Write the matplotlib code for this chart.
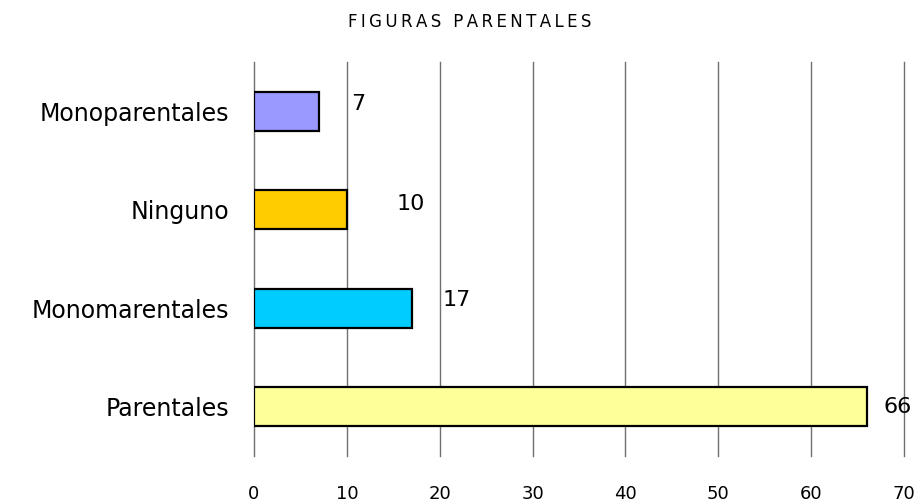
import matplotlib
matplotlib.use("Agg")
import matplotlib.pyplot as plt
import numpy as np

# data
categorias = ["Monoparentales", "Ninguno", "Monomarentales", "Parentales"]
valores = [7, 10, 17, 66]
colores = ["#9999FF", "#FFCC00", "#00CCFF", "#FFFF99"]
ticks = [0, 10, 20, 30, 40, 50, 60, 70]
titulo = "FIGURAS PARENTALES"

# label offsets (points) so the numbers sit where the original put them
offs = [(28, 5), (46, 4), (32, 6), (22, 0)]

plt.rcParams['font.family'] = ['DejaVu Sans']

fig = plt.figure(figsize=(9.2, 5.03), dpi=100)
ax = fig.add_axes([254/920, 1 - 456/503, 650/920, 394/503])

y = np.arange(len(categorias))
ax.barh(y, valores, height=0.4, color=colores, edgecolor="black", linewidth=1.6, zorder=3)

ax.set_xlim(0, 70)
ax.set_ylim(len(categorias) - 0.5, -0.5)
ax.set_xticks(ticks)
ax.set_xticklabels([str(t) for t in ticks], fontsize=13)
ax.set_yticks(y)
ax.set_yticklabels(categorias, fontsize=17)
ax.tick_params(axis='x', length=0, pad=21)
ax.tick_params(axis='y', length=0, pad=18)

ax.grid(axis='x', color="#707070", linewidth=1.0, zorder=0)
for gl in ax.get_xgridlines():
    gl.set_clip_on(False)
for s in ax.spines.values():
    s.set_visible(False)

for i, v in enumerate(valores):
    ax.annotate(str(v), (v, i), xytext=offs[i], textcoords="offset points",
                ha="center", va="center", fontsize=16)

# letter-spaced title
fig.text(470/920, 1 - 22/503, "\u2009".join(titulo), ha="center", va="center", fontsize=12)

fig.savefig("out.png", dpi=100)
